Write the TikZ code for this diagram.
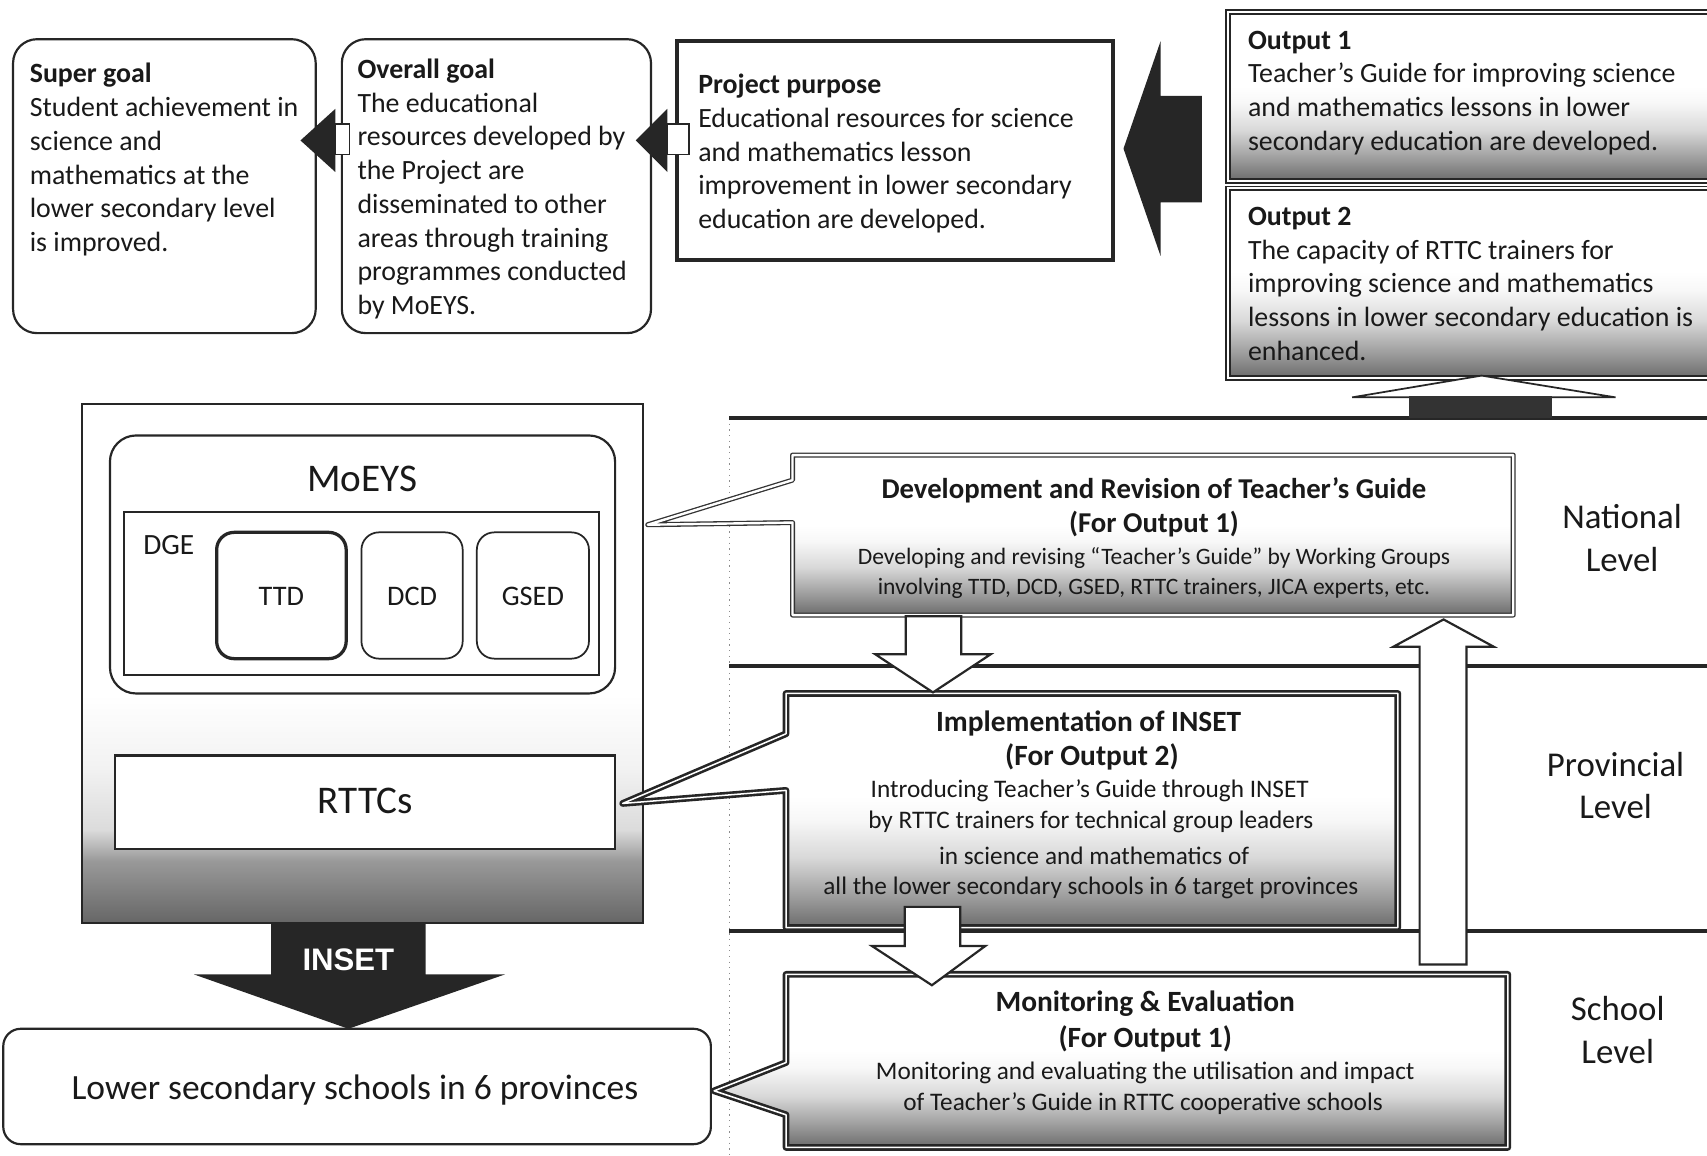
\documentclass[tikz,border=0pt]{standalone}
\usepackage{fontspec}
\setmainfont{Carlito}
\newfontfamily\insetfont{Liberation Sans}
\usetikzlibrary{calc}

% grey fading towards the lower edge of a box
\pgfdeclareverticalshading{lowgray}{100bp}{%
  color(0bp)=(black!58); color(25bp)=(black!58); color(31bp)=(black!40);
  color(40bp)=(black!15); color(48bp)=(black!3); color(53bp)=(white); color(100bp)=(white)}
\pgfdeclareverticalshading{panelgray}{100bp}{%
  color(0bp)=(black!60); color(25bp)=(black!60); color(31bp)=(black!40);
  color(34bp)=(black!14); color(40bp)=(black!5); color(47bp)=(white); color(100bp)=(white)}

\tikzset{
  box/.style={rectangle, inner sep=0pt, outer sep=0pt},
  goalbox/.style={box, draw=black!85, line width=1pt, rounded corners=11pt, fill=white},
  purposebox/.style={box, draw=black!85, line width=1.8pt, fill=white},
  outputbox/.style={box, draw=black!85, line width=0.8pt, double=white, double distance=1pt, shading=lowgray},
  unitbox/.style={box, draw=black!85, line width=0.8pt, rounded corners=8pt, fill=white, minimum height=58pt},
  calloutthin/.style={draw=black!80, line width=0.6pt, double=white, double distance=1.1pt, line join=round, shading=lowgray},
  calloutthick/.style={draw=black!85, line width=1.2pt, double=white, double distance=0.7pt, line join=round, shading=lowgray},
  whitearrow/.style={draw=black!85, line width=1pt, fill=white},
  darkarrow/.style={fill=black!85},
  bodytext/.style={inner sep=0pt, anchor=north west, align=left, text=black!90, font=\fontsize{12.8}{15.5}\selectfont},
  ctitle/.style={inner sep=0pt, anchor=base, text=black!90, font=\bfseries\fontsize{13.5}{16}\selectfont},
  cbody/.style={inner sep=0pt, anchor=base, text=black!90, font=\fontsize{11.6}{14}\selectfont},
  leveltext/.style={inner sep=0pt, anchor=base, text=black!90, font=\fontsize{16}{19}\selectfont},
  unittext/.style={inner sep=0pt, anchor=base, text=black!90, font=\fontsize{13}{16}\selectfont},
  bigtext/.style={inner sep=0pt, anchor=base, text=black!90, font=\fontsize{18}{22}\selectfont},
}

\begin{document}
\begin{tikzpicture}[x=0.5pt, y=-0.5pt]
\useasboundingbox (0,0) rectangle (1568,1061);
\clip (0,0) rectangle (1568,1061);

% ---------- level bands on the right ----------
\draw[black!45, dotted, line width=0.6pt] (670,384) -- (670,1061);
\foreach \yy in {384,612,855}
  \draw[black!85, line width=1.8pt] (670,\yy) -- (1568,\yy);

% ---------- goals and purpose ----------
\node[goalbox, minimum width=139pt, minimum height=135pt] (super) at (151,171) {};
\node[bodytext] (supertxt) at (27,54) {\strut\textbf{Super goal}\\Student achievement in\\science and\\mathematics at the\\lower secondary level\\is improved.};

\node[goalbox, minimum width=142pt, minimum height=135pt] (overall) at (456,171) {};
\node[bodytext] (overalltxt) at (328,50) {\strut\textbf{Overall goal}\\The educational\\resources developed by\\the Project are\\disseminated to other\\areas through training\\programmes conducted\\by MoEYS.};

\node[purposebox, minimum width=200pt, minimum height=100.5pt] (purpose) at (822,138.5) {};
\node[bodytext] (purposetxt) at (641,64) {\strut\textbf{Project purpose}\\Educational resources for science\\and mathematics lesson\\improvement in lower secondary\\education are developed.};

% ---------- outputs ----------
\node[outputbox, minimum width=236pt, minimum height=77.5pt] (out1) at (1364,88.5) {};
\node[bodytext] (out1txt) at (1146,23) {\strut\textbf{Output 1}\\Teacher’s Guide for improving science\\and mathematics lessons in lower\\secondary education are developed.};

\node[outputbox, minimum width=236pt, minimum height=87pt] (out2) at (1364,260) {};
\node[bodytext] (out2txt) at (1146,185) {\strut\textbf{Output 2}\\The capacity of RTTC trainers for\\improving science and mathematics\\lessons in lower secondary education is\\enhanced.};

% ---------- arrows of the top row ----------
\fill[darkarrow] (308,100) -- (276,129) -- (308,158) -- cycle;
\draw[black!85, line width=0.6pt, fill=white] (308,114) rectangle (321,142);
\fill[darkarrow] (613,100) -- (584,129) -- (613,158) -- cycle;
\draw[black!85, line width=0.6pt, fill=white] (613,114) rectangle (633,142);
\fill[darkarrow] (1104,88) -- (1066,88) -- (1066,38) -- (1032,136.5) -- (1066,235) -- (1066,186) -- (1104,186) -- cycle;

% flat arrow from the bands up to Output 2
\draw[black!85, line width=0.8pt, fill=white] (1242,365) -- (1361,345) -- (1484,365) -- cycle;
\fill[black!80] (1294,364) rectangle (1426,384);

% ---------- organisation panel ----------
\node[box, draw=black!85, line width=0.9pt, shading=panelgray, minimum width=258pt, minimum height=238.5pt] (panel) at (333,609.5) {};
\node[box, draw=black!85, line width=1pt, rounded corners=12pt, fill=white, minimum width=232pt, minimum height=118.5pt] (moeys) at (333,518.5) {};
\node[bigtext] (moeystxt) at (333,451.6) {MoEYS};
\node[box, draw=black!85, line width=0.9pt, fill=white, minimum width=218pt, minimum height=75pt] (dge) at (332,545) {};
\node[unittext, font=\fontsize{13.5}{16}\selectfont] (dgetxt) at (155,509.7) {DGE};
\node[unitbox, line width=1.5pt, minimum width=59.5pt] (ttd) at (258.5,547) {};
\node[unittext] (ttdtxt) at (258.5,556.4) {TTD};
\node[unitbox, minimum width=46.5pt] (dcd) at (378.5,547) {};
\node[unittext] (dcdtxt) at (378.5,556.4) {DCD};
\node[unitbox, minimum width=51.5pt] (gsed) at (489.5,547) {};
\node[unittext] (gsedtxt) at (489.5,556.4) {GSED};
\node[box, draw=black!85, line width=1pt, fill=white, minimum width=229.5pt, minimum height=43pt] (rttc) at (335.5,737) {};
\node[bigtext] (rttctxt) at (335.5,747.6) {RTTCs};

% ---------- activity callouts ----------
\coordinate (devtip) at (595,482);
\node[box, minimum width=331pt, minimum height=73.5pt] (dev) at (1059,491.5) {};
\path[calloutthin] (dev.north west) -- (dev.north east) -- (dev.south east) -- (dev.south west)
  -- (728,480) -- (devtip) -- (728,441) -- cycle;
\node[ctitle, font=\bfseries\fontsize{13.2}{16}\selectfont] (devt1) at (1060,457.5) {Development and Revision of Teacher’s Guide};
\node[ctitle, font=\bfseries\fontsize{13.2}{16}\selectfont] (devt2) at (1060,489.5) {(For Output 1)};
\node[cbody, font=\fontsize{10.8}{13}\selectfont] (devb1) at (1060,518.4) {Developing and revising “Teacher’s Guide” by Working Groups};
\node[cbody, font=\fontsize{10.8}{13}\selectfont] (devb2) at (1060,546.4) {involving TTD, DCD, GSED, RTTC trainers, JICA experts, etc.};

\coordinate (impltip) at (572,738);
\node[box, minimum width=281pt, minimum height=107.5pt] (impl) at (1003,744.5) {};
\path[calloutthick] (impl.north west) -- (impl.north east) -- (impl.south east) -- (impl.south west)
  -- (722,726) -- (impltip) -- (722,674) -- cycle;
\node[ctitle] (implt1) at (1000,671.5) {Implementation of INSET};
\node[ctitle] (implt2) at (1003,703.5) {(For Output 2)};
\node[cbody] (implb1) at (1001,733) {Introducing Teacher’s Guide through INSET};
\node[cbody] (implb2) at (1002,761) {by RTTC trainers for technical group leaders};
\node[cbody] (implb3) at (1005,794) {in science and mathematics of};
\node[cbody] (implb4) at (1002,822) {all the lower secondary schools in 6 target provinces};

\coordinate (monitip) at (656,1002);
\node[box, minimum width=331.5pt, minimum height=79.5pt] (moni) at (1053.5,974.5) {};
\path[calloutthick] (moni.north west) -- (moni.north east) -- (moni.south east) -- (moni.south west)
  -- (722,1024) -- (monitip) -- (722,976) -- cycle;
\node[ctitle] (monit1) at (1052,929) {Monitoring \& Evaluation};
\node[ctitle] (monit2) at (1052,962) {(For Output 1)};
\node[cbody] (monib1) at (1052,992) {Monitoring and evaluating the utilisation and impact};
\node[cbody] (monib2) at (1050,1020) {of Teacher’s Guide in RTTC cooperative schools};

% ---------- flow between the activities ----------
\draw[whitearrow] (832,566) -- (832,601) -- (804,601) -- (857,636) -- (910,601) -- (883,601) -- (883,566) -- cycle;
\draw[whitearrow] (831,833) -- (831,869) -- (801,869) -- (856,905) -- (905,869) -- (882,869) -- (882,833) -- cycle;
\draw[whitearrow] (1304,886) -- (1304,594) -- (1280,594) -- (1326,569) -- (1372,594) -- (1347,594) -- (1347,886) -- cycle;

% ---------- schools ----------
\node[box, draw=black!85, line width=1pt, rounded corners=8pt, fill=white, minimum width=325pt, minimum height=53pt] (lower) at (328,998) {};
\node[inner sep=0pt, anchor=base, text=black!90, font=\fontsize{16.3}{19}\selectfont] (lowertxt) at (326,1009.8) {Lower secondary schools in 6 provinces};
\fill[darkarrow] (249,848) -- (391,848) -- (391,895) -- (464,895) -- (320,945) -- (178,895) -- (249,895) -- cycle;
\node[inner sep=0pt, anchor=base, text=white, font=\insetfont\bfseries\fontsize{14.3}{17}\selectfont] (insettxt) at (320,891) {INSET};

% ---------- level names ----------
\node[leveltext] (nat1) at (1490,485.6) {National};
\node[leveltext] (nat2) at (1490,524.6) {Level};
\node[leveltext] (prov1) at (1484,713.6) {Provincial};
\node[leveltext] (prov2) at (1484,751.6) {Level};
\node[leveltext] (sch1) at (1486,937.6) {School};
\node[leveltext] (sch2) at (1486,976.6) {Level};
\end{tikzpicture}
\end{document}
